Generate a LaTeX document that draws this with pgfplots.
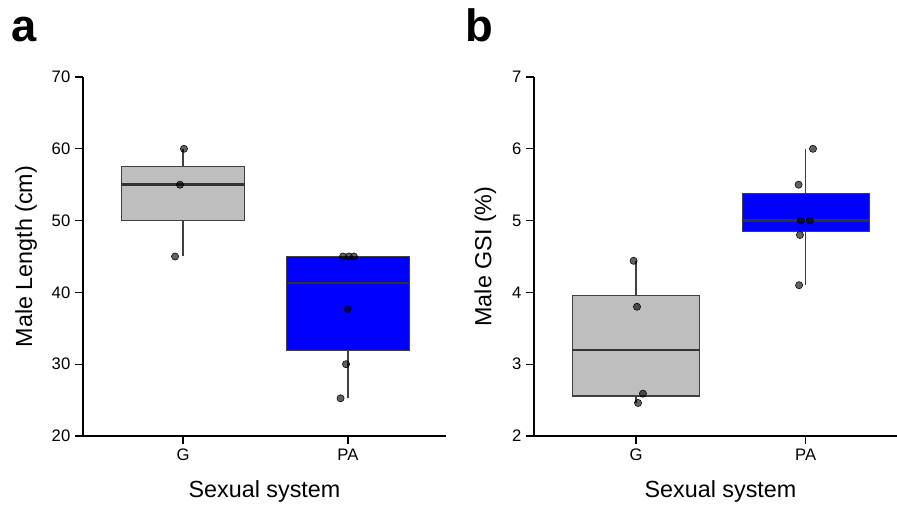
\documentclass[border=0pt]{standalone}
\usepackage{fontspec}
\setmainfont{Liberation Sans}
\usepackage{pgfplots}
\pgfplotsset{compat=1.18}
\usepgfplotslibrary{statistics}
\definecolor{boxgray}{HTML}{BEBEBE}
\definecolor{boxblue}{HTML}{0000FF}
\definecolor{edge}{HTML}{404040}
\definecolor{medc}{HTML}{333333}

\pgfplotsset{
  myax/.style={
    scale only axis, width=272.25pt, height=269.25pt,
    axis x line*=bottom, axis y line*=left,
    axis line style={line width=0.8pt, black, -},
    tick align=outside, major tick length=6pt,
    tick style={line width=0.8pt, black},
    xtick={1,2}, xticklabels={G,PA},
    tick label style={font=\fontsize{12.5}{14}\selectfont},
    /pgf/number format/assume math mode=true,
    clip=false,
    boxplot/draw direction=y,
  },
  bx/.style={line width=0.8pt, draw=edge},
  pts/.style={only marks, mark=*, mark size=2.7pt,
    mark options={fill=black, draw=none, fill opacity=0.62}},
}

\begin{document}
\begin{tikzpicture}
% ---------------- panel a
\begin{axis}[myax, at={(62.25pt,51pt)}, anchor=south west,
  xmin=0.394, xmax=2.594, ymin=20, ymax=70, ytick={20,30,...,70}]
\addplot[bx, fill=boxgray, boxplot prepared={draw position=1, median=55,
  upper quartile=57.5, lower quartile=50, upper whisker=60, lower whisker=45,
  box extend=0.75, whisker extend=0,
  every median/.style={line width=1.8pt, draw=medc}}] coordinates {};
\addplot[bx, fill=boxblue, boxplot prepared={draw position=2, median=41.35,
  upper quartile=45, lower quartile=31.9, upper whisker=45, lower whisker=25.25,
  box extend=0.75, whisker extend=0,
  every median/.style={line width=1.8pt, draw=medc}}] coordinates {};
\addplot[pts] coordinates {
  (1.006,60) (0.982,55) (0.952,45)
  (1.970,45) (2.006,45) (2.036,45) (1.998,37.7) (1.988,30) (1.955,25.25)};
\end{axis}
% ---------------- panel b
\begin{axis}[myax, at={(400.5pt,51pt)}, anchor=south west,
  xmin=0.399, xmax=2.538, ymin=2, ymax=7, ytick={2,3,...,7}]
\addplot[bx, fill=boxgray, boxplot prepared={draw position=1, median=3.195,
  upper quartile=3.96, lower quartile=2.5575, upper whisker=4.44, lower whisker=2.46,
  box extend=0.75, whisker extend=0,
  every median/.style={line width=1.8pt, draw=medc}}] coordinates {};
\addplot[bx, fill=boxblue, boxplot prepared={draw position=2, median=5.0,
  upper quartile=5.375, lower quartile=4.85, upper whisker=6.0, lower whisker=4.1,
  box extend=0.75, whisker extend=0,
  every median/.style={line width=1.8pt, draw=medc}}] coordinates {};
\addplot[pts] coordinates {
  (0.986,4.44) (1.006,3.80) (1.041,2.59) (1.012,2.46)
  (2.043,6.0) (1.958,5.5) (1.972,5.0) (2.024,5.0) (1.966,4.8) (1.961,4.1)};
\end{axis}
% ---------------- labels
\node[rotate=90, font=\fontsize{17.5}{20}\selectfont] at (19.5pt,185.6pt) {Male Length (cm)};
\node[rotate=90, font=\fontsize{17.5}{20}\selectfont] at (364pt,185.6pt) {Male GSI (\%)};
\node[anchor=base, font=\fontsize{17.5}{20}\selectfont, inner sep=0] at (198.4pt,5.25pt) {Sexual system};
\node[anchor=base, font=\fontsize{17.5}{20}\selectfont, inner sep=0] at (540.4pt,5.25pt) {Sexual system};
\node[anchor=base west, font=\fontsize{34}{40}\selectfont\bfseries, inner sep=0] at (8.5pt,346.5pt) {a};
\node[anchor=base west, font=\fontsize{34}{40}\selectfont\bfseries, inner sep=0] at (349pt,346.5pt) {b};
\pgfresetboundingbox
\path[use as bounding box] (0,0) rectangle (672.75pt,378pt);
\end{tikzpicture}
\end{document}
